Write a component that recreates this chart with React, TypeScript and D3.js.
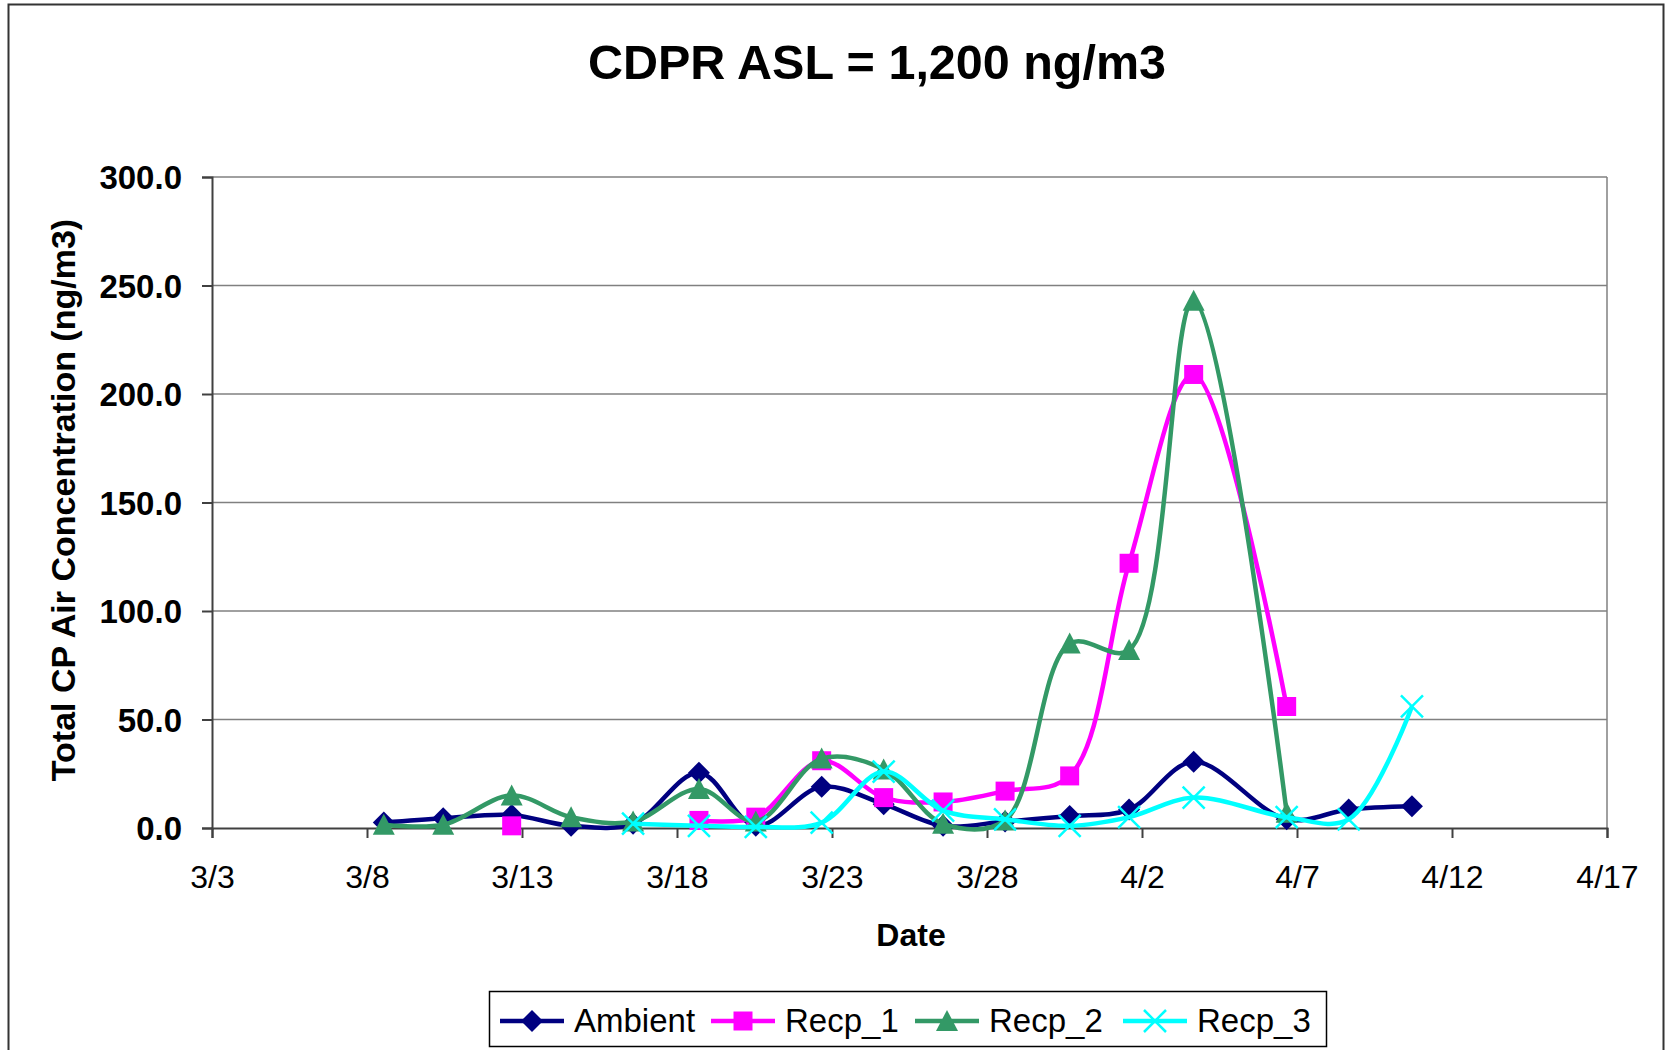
import React, { useRef, useEffect } from "react";
import * as d3 from "d3";

// sample collection times (month/day hour:min)
const sampleDates = [
  "03/08 13:00", "03/10 11:00", "03/12 16:00", "03/14 14:00", "03/16 14:00",
  "03/18 17:00", "03/20 13:00", "03/22 16:00", "03/24 16:00", "03/26 14:00",
  "03/28 14:00", "03/30 16:00", "04/01 14:00", "04/03 16:00", "04/06 16:00",
  "04/08 16:00", "04/10 17:00",
];

const ambient = [2.5, 4.5, 6, 1, 2, 25.5, 1, 19, 11, 1, 3, 5.5, 8.5, 30.5, 4, 8.5, 10];
const recp1 = [null, null, 1, null, null, 3.5, 5, 31, 14, 12, 17, 24, 122, 209, 56, null, null];
const recp2 = [1.5, 1.5, 15, 5, 3, 18, 3, 32, 27, 2, 3.5, 85, 82, 243, 7, null, null];
const recp3 = [null, null, null, null, 2, 1, 0.5, 2.5, 26, 8, 4, 1, 5, 14, 5, 4, 56];

const seriesNames = ["Ambient", "Recp_1", "Recp_2", "Recp_3"];
const seriesColors = ["#000080", "#FF00FF", "#339966", "#00FFFF"];
const seriesMarkers = ["diamond", "square", "triangle", "x"];

const xTickLabels = ["3/3", "3/8", "3/13", "3/18", "3/23", "3/28", "4/2", "4/7", "4/12", "4/17"];
const yTicks = [0, 50, 100, 150, 200, 250, 300];

const FONT = "'Liberation Sans', Arial, sans-serif";

const markerPath = (type: string) => {
  if (type === "diamond") return "M0,-11L11,0L0,11L-11,0Z";
  if (type === "square") return "M-9.5,-9.5H9.5V9.5H-9.5Z";
  if (type === "triangle") return "M0,-11L11,10H-11Z";
  return "M-11,-11L11,11M-11,11L11,-11";
};

const App = () => {
  const svgRef = useRef<SVGSVGElement>(null);

  useEffect(() => {
    const svg = d3.select(svgRef.current);
    svg.selectAll("*").remove();

    const margin = { top: 177, left: 212, right: 1607, bottom: 828 };
    const parseSample = d3.timeParse("%m/%d %H:%M");
    const parseTick = d3.timeParse("%m/%d");
    const dates = sampleDates.map(d => parseSample(d) as Date);
    const tickDates = xTickLabels.map(d => parseTick(d) as Date);

    const x = d3.scaleTime()
      .domain([tickDates[0], tickDates[tickDates.length - 1]])
      .range([margin.left, margin.right]);
    const y = d3.scaleLinear().domain([0, 300]).range([margin.bottom, margin.top]);

    // chart border
    svg.append("rect")
      .attr("x", 8.5).attr("y", 4.5)
      .attr("width", 1655).attr("height", 1080)
      .attr("fill", "#fff").attr("stroke", "#333").attr("stroke-width", 2);

    // title
    svg.append("text")
      .attr("x", 877).attr("y", 79)
      .attr("text-anchor", "middle")
      .style("font-family", FONT).style("font-weight", "bold").style("font-size", "48.5px")
      .text("CDPR ASL = 1,200 ng/m3");

    // gridlines
    svg.append("g").selectAll("line")
      .data(yTicks.filter(d => d > 0))
      .join("line")
      .attr("x1", margin.left).attr("x2", margin.right)
      .attr("y1", d => y(d)).attr("y2", d => y(d))
      .attr("stroke", "#808080").attr("stroke-width", 1.5);

    // plot area right border
    svg.append("line")
      .attr("x1", margin.right).attr("x2", margin.right)
      .attr("y1", margin.top).attr("y2", margin.bottom)
      .attr("stroke", "#808080").attr("stroke-width", 1.5);

    // axes
    const yAxis = svg.append("g")
      .attr("transform", `translate(${margin.left},0)`)
      .call(d3.axisLeft(y).tickValues(yTicks).tickSize(10).tickFormat(d3.format(".1f")));
    yAxis.select(".domain").attr("stroke", "#404040").attr("stroke-width", 2);
    yAxis.selectAll(".tick line").attr("stroke", "#404040").attr("stroke-width", 2);
    yAxis.selectAll(".tick text")
      .attr("x", -30).attr("dy", "0.35em")
      .style("font-family", FONT).style("font-weight", "bold").style("font-size", "33px")
      .attr("fill", "#000");

    const xAxis = svg.append("g")
      .attr("transform", `translate(0,${margin.bottom})`)
      .call(d3.axisBottom(x).tickValues(tickDates).tickSize(10)
        .tickFormat((d, i) => xTickLabels[i]));
    xAxis.select(".domain").attr("stroke", "#404040").attr("stroke-width", 2);
    xAxis.selectAll(".tick line").attr("stroke", "#404040").attr("stroke-width", 2);
    xAxis.selectAll(".tick text")
      .attr("y", 60).attr("dy", 0)
      .style("font-family", FONT).style("font-size", "32px")
      .attr("fill", "#000");

    // axis titles
    svg.append("text")
      .attr("x", 911).attr("y", 946)
      .attr("text-anchor", "middle")
      .style("font-family", FONT).style("font-weight", "bold").style("font-size", "32px")
      .text("Date");

    svg.append("text")
      .attr("transform", "translate(75,500) rotate(-90)")
      .attr("text-anchor", "middle")
      .style("font-family", FONT).style("font-weight", "bold").style("font-size", "34px")
      .text("Total CP Air Concentration (ng/m3)");

    // series
    const allSeries = [ambient, recp1, recp2, recp3];
    const line = d3.line<{ date: Date; v: number | null }>()
      .defined(d => d.v != null)
      .x(d => x(d.date))
      .y(d => y(d.v as number))
      .curve(d3.curveCatmullRom.alpha(0.5));

    allSeries.forEach((vals, si) => {
      const pts = vals.map((v, i) => ({ date: dates[i], v }));
      const color = seriesColors[si];
      const g = svg.append("g");
      g.append("path")
        .datum(pts)
        .attr("d", line)
        .attr("fill", "none")
        .attr("stroke", color)
        .attr("stroke-width", 4.5)
        .attr("stroke-linejoin", "round");
      const isX = seriesMarkers[si] === "x";
      g.selectAll("path.marker")
        .data(pts.filter(d => d.v != null))
        .join("path")
        .attr("class", "marker")
        .attr("transform", d => `translate(${x(d.date)},${y(d.v as number)})`)
        .attr("d", markerPath(seriesMarkers[si]))
        .attr("fill", isX ? "none" : color)
        .attr("stroke", isX ? color : "none")
        .attr("stroke-width", 2.5);
    });

    // legend
    const legend = svg.append("g");
    legend.append("rect")
      .attr("x", 489.5).attr("y", 991.5)
      .attr("width", 837).attr("height", 55)
      .attr("fill", "#fff").attr("stroke", "#000").attr("stroke-width", 1.5);
    const itemX = [500, 711, 915, 1123];
    seriesNames.forEach((name, i) => {
      const lx = itemX[i];
      const color = seriesColors[i];
      const isX = seriesMarkers[i] === "x";
      legend.append("line")
        .attr("x1", lx).attr("x2", lx + 64)
        .attr("y1", 1021).attr("y2", 1021)
        .attr("stroke", color).attr("stroke-width", 4.5);
      legend.append("path")
        .attr("transform", `translate(${lx + 32},1021)`)
        .attr("d", markerPath(seriesMarkers[i]))
        .attr("fill", isX ? "none" : color)
        .attr("stroke", isX ? color : "none")
        .attr("stroke-width", 2.5);
      legend.append("text")
        .attr("x", lx + 74).attr("y", 1032)
        .style("font-family", FONT).style("font-size", "33px")
        .text(name);
    });
  }, []);

  return (
    <svg
      ref={svgRef}
      width={1669}
      height={1050}
      style={{ position: "absolute", left: 0, top: 0, display: "block", background: "#fff" }}
    />
  );
};

export default App;
